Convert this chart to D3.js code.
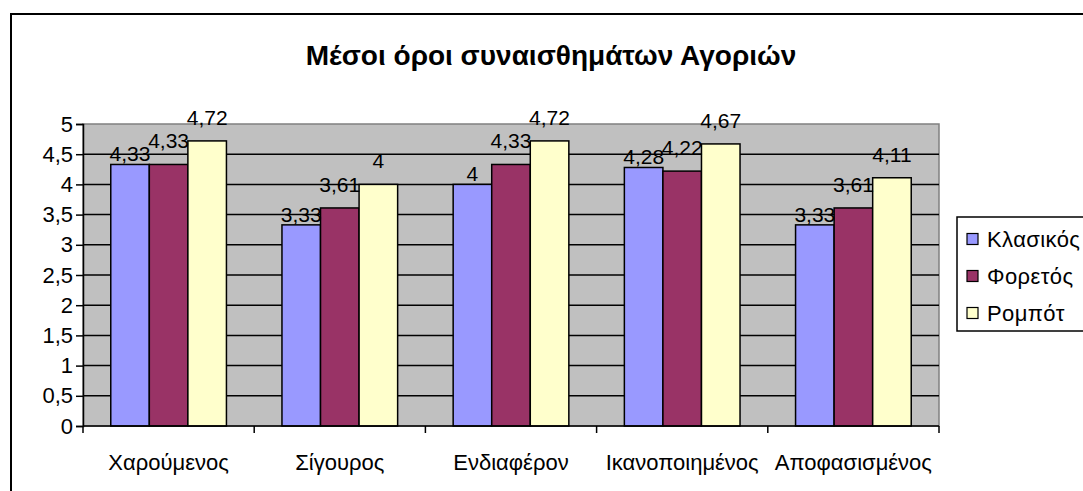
<!DOCTYPE html>
<html>
<head>
<meta charset="utf-8">
<script src="https://cdn.jsdelivr.net/npm/d3@7"></script>
<style>
  body { margin: 0; background: white; }
  text { font-family: "Liberation Sans", Arial, sans-serif; }
</style>
</head>
<body>
<div id="chart"></div>
<script>
// data
var categories = ["Χαρούμενος", "Σίγουρος", "Ενδιαφέρον", "Ικανοποιημένος", "Αποφασισμένος"];
var seriesNames = ["Κλασικός", "Φορετός", "Ρομπότ"];
var klasikos = [4.33, 3.33, 4, 4.28, 3.33];
var foretos = [4.33, 3.61, 4.33, 4.22, 3.61];
var rompot = [4.72, 4, 4.72, 4.67, 4.11];
var yTicks = [0, 0.5, 1, 1.5, 2, 2.5, 3, 3.5, 4, 4.5, 5];

var seriesValues = [klasikos, foretos, rompot];
var colors = ["#9999FF", "#993366", "#FFFFCC"];
var labelGap = [3, 16, 16];

var W = 1083, H = 491;
var plot = {left: 83, right: 939, top: 124, bottom: 426};

var svg = d3.select("#chart").append("svg")
    .attr("width", W)
    .attr("height", H)
    .style("background-color", "white");

// outer chart frame (runs off the picture right and bottom)
svg.append("rect")
    .attr("x", 11).attr("y", 14)
    .attr("width", W + 20).attr("height", H + 20)
    .attr("fill", "white")
    .attr("stroke", "black")
    .attr("stroke-width", 2);

svg.append("text")
    .attr("x", 551)
    .attr("y", 65)
    .attr("text-anchor", "middle")
    .style("font-size", "28px")
    .style("font-weight", "bold")
    .text("Μέσοι όροι συναισθημάτων Αγοριών");

var x0 = d3.scaleBand().domain(categories).range([plot.left, plot.right]);
var x1 = d3.scaleBand().domain(seriesNames).range([0, x0.bandwidth()])
    .paddingInner(0).paddingOuter(0.72);
var y = d3.scaleLinear().domain([0, 5]).range([plot.bottom, plot.top]);

// plot area
svg.append("rect")
    .attr("x", plot.left).attr("y", plot.top)
    .attr("width", plot.right - plot.left)
    .attr("height", plot.bottom - plot.top)
    .attr("fill", "#C0C0C0")
    .attr("stroke", "#808080")
    .attr("stroke-width", 1.5);

// gridlines (top edge stays the grey plot border)
svg.append("g")
    .selectAll("line")
    .data(yTicks.slice(1, -1))
    .enter().append("line")
    .attr("x1", plot.left).attr("x2", plot.right)
    .attr("y1", function(d) { return y(d); })
    .attr("y2", function(d) { return y(d); })
    .attr("stroke", "black")
    .attr("stroke-width", 1.5);

var fmt = function(d) { return String(d).replace(".", ","); };

// Y axis
var yAxis = svg.append("g")
    .attr("transform", "translate(" + plot.left + ",0)")
    .call(d3.axisLeft(y).tickValues(yTicks).tickFormat(fmt).tickSize(7).tickPadding(3));
yAxis.select(".domain").attr("stroke-width", 1.5);
yAxis.selectAll(".tick line").attr("stroke-width", 1.5);
yAxis.selectAll("text")
    .style("font-size", "22px")
    .style("font-family", "'Liberation Sans', Arial, sans-serif")
    .attr("fill", "black");

// bars
var rows = [];
categories.forEach(function(c, i) {
  seriesNames.forEach(function(s, j) {
    rows.push({cat: c, ser: s, idx: j, value: seriesValues[j][i]});
  });
});

svg.append("g")
    .selectAll("rect")
    .data(rows)
    .enter().append("rect")
    .attr("x", function(d) { return x0(d.cat) + x1(d.ser); })
    .attr("y", function(d) { return y(d.value); })
    .attr("width", x1.bandwidth())
    .attr("height", function(d) { return plot.bottom - y(d.value); })
    .attr("fill", function(d) { return colors[d.idx]; })
    .attr("stroke", "black")
    .attr("stroke-width", 1.5);

// X axis
var xAxisLine = svg.append("g")
    .attr("transform", "translate(0," + plot.bottom + ")");
xAxisLine.append("line")
    .attr("x1", plot.left).attr("x2", plot.right)
    .attr("stroke", "black").attr("stroke-width", 1.5);
xAxisLine.selectAll(".xtick")
    .data(d3.range(categories.length + 1))
    .enter().append("line")
    .attr("class", "xtick")
    .attr("x1", function(i) { return plot.left + i * x0.step(); })
    .attr("x2", function(i) { return plot.left + i * x0.step(); })
    .attr("y1", 0).attr("y2", 7)
    .attr("stroke", "black").attr("stroke-width", 1.5);
xAxisLine.selectAll(".xlab")
    .data(categories)
    .enter().append("text")
    .attr("class", "xlab")
    .attr("x", function(d) { return x0(d) + x0.bandwidth() / 2; })
    .attr("y", 44)
    .attr("text-anchor", "middle")
    .style("font-size", "22px")
    .text(function(d) { return d; });

// value labels
svg.append("g")
    .selectAll("text")
    .data(rows)
    .enter().append("text")
    .attr("x", function(d) { return x0(d.cat) + x1(d.ser) + x1.bandwidth() / 2; })
    .attr("y", function(d) { return y(d.value) - labelGap[d.idx]; })
    .attr("text-anchor", "middle")
    .style("font-size", "21px")
    .text(function(d) { return fmt(d.value); });

// legend
var legend = svg.append("g").attr("transform", "translate(957,217)");
legend.append("rect")
    .attr("x", 0).attr("y", 0)
    .attr("width", 150).attr("height", 114)
    .attr("fill", "white")
    .attr("stroke", "black")
    .attr("stroke-width", 1.5);
var item = legend.selectAll(".item")
    .data(seriesNames)
    .enter().append("g")
    .attr("class", "item")
    .attr("transform", function(d, i) { return "translate(10," + (22 + i * 37) + ")"; });
item.append("rect")
    .attr("x", 0).attr("y", -5.5)
    .attr("width", 11).attr("height", 11)
    .attr("fill", function(d, i) { return colors[i]; })
    .attr("stroke", "black")
    .attr("stroke-width", 1.2);
item.append("text")
    .attr("x", 20).attr("y", 8)
    .style("font-size", "22px")
    .style("letter-spacing", "0.4px")
    .text(function(d) { return d; });
</script>
</body>
</html>
